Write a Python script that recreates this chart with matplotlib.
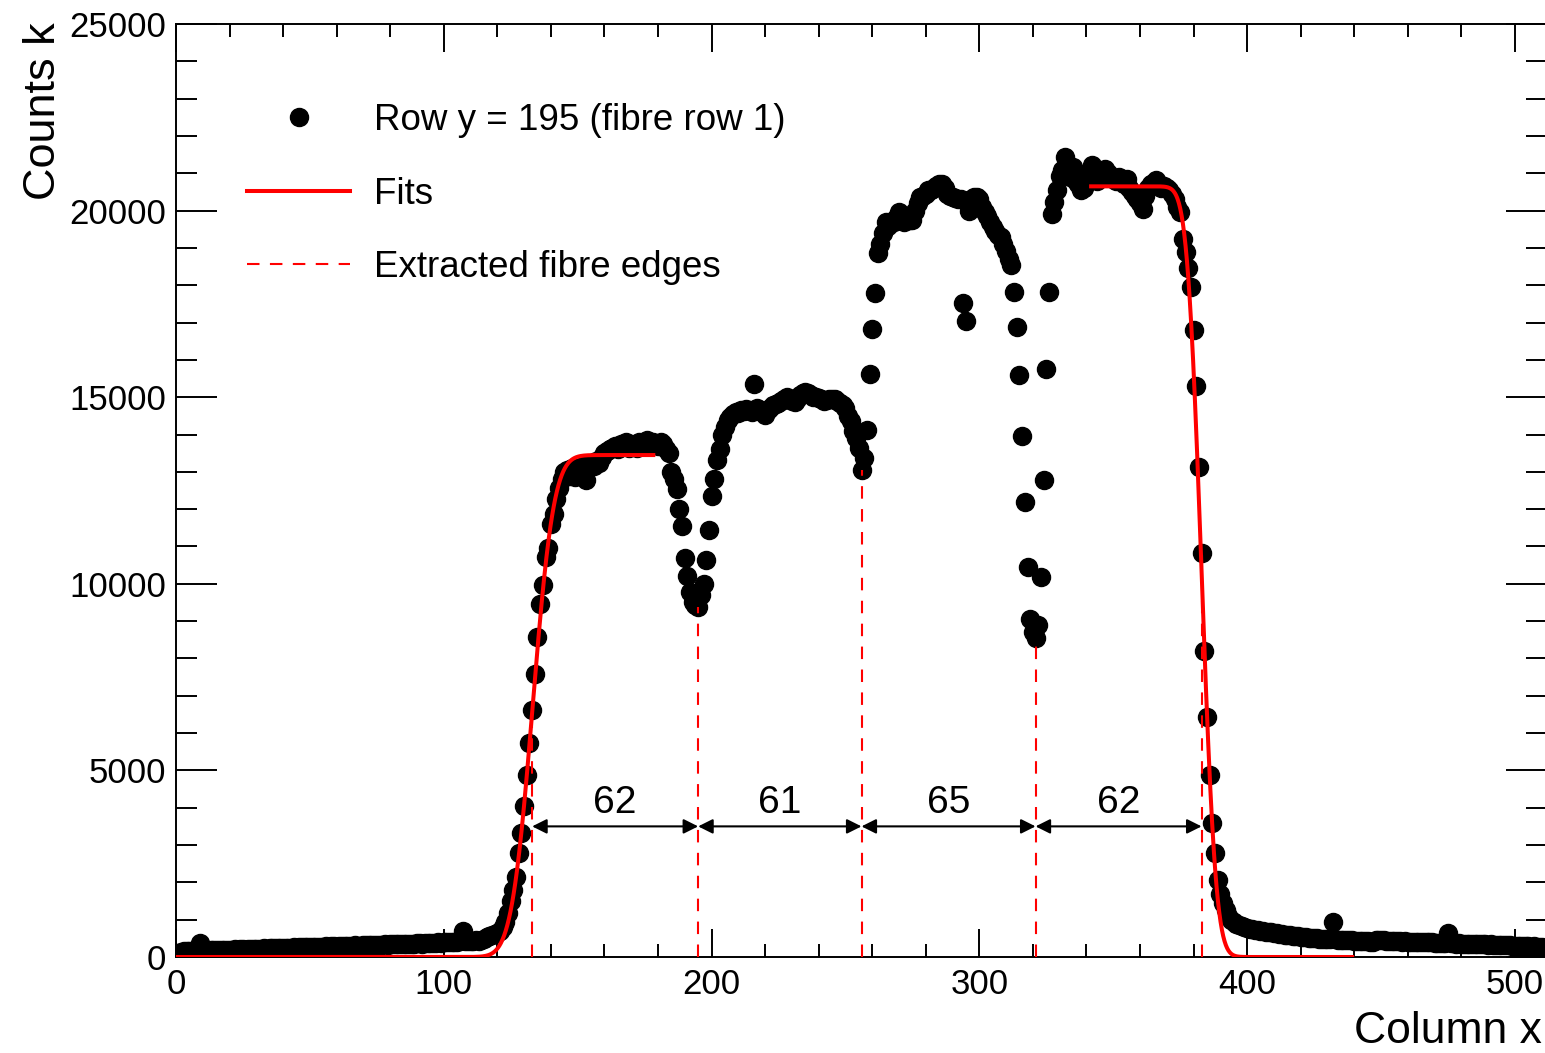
import math

import matplotlib
matplotlib.use("Agg")
import matplotlib.pyplot as plt
from matplotlib.lines import Line2D
from matplotlib.ticker import MultipleLocator
import numpy as np

plt.rcParams['font.family'] = ['Liberation Sans', 'DejaVu Sans']

# Pixel counts along image row y = 195, one value per column (0..511)
counts = [
    100, 20, 140, 150, 160, 150, 170, 160, 180, 380, 170, 180, 170, 190, 180, 185,
    190, 180, 195, 200, 190, 200, 210, 195, 205, 210, 200, 215, 220, 210, 215, 225,
    220, 230, 225, 235, 230, 240, 230, 245, 240, 250, 245, 240, 255, 250, 260, 255,
    260, 270, 265, 260, 275, 270, 280, 275, 285, 280, 290, 285, 280, 295, 290, 300,
    295, 305, 300, 310, 305, 300, 315, 310, 320, 315, 325, 320, 330, 325, 335, 330,
    340, 335, 345, 340, 350, 345, 355, 350, 360, 355, 365, 370, 360, 375, 370, 380,
    375, 385, 390, 380, 395, 390, 400, 410, 400, 415, 420, 690, 425, 430, 420, 440,
    450, 440, 460, 470, 540, 560, 580, 610, 640, 700, 800, 950, 1170, 1500, 1800, 2150,
    2790, 3310, 4040, 4870, 5740, 6620, 7580, 8580, 9450, 9980, 10720, 10960, 11600, 11860, 12270, 12560,
    12800, 13000, 13050, 12900, 13100, 12850, 13100, 13000, 13150, 12780, 13100, 13200, 13150, 13300, 13250, 13400,
    13500, 13550, 13600, 13650, 13700, 13600, 13750, 13700, 13800, 13650, 13750, 13700, 13650, 13800, 13700, 13750,
    13850, 13700, 13800, 13750, 13700, 13800, 13750, 13600, 13500, 13000, 12800, 12550, 12000, 11550, 10700, 10200,
    9780, 9520, 9420, 9380, 9700, 10000, 10650, 11430, 12340, 12800, 13330, 13600, 13980, 14200, 14380, 14480,
    14560, 14600, 14580, 14650, 14620, 14680, 14650, 14600, 15360, 14700, 14650, 14600, 14520, 14650, 14700, 14800,
    14830, 14850, 14900, 14950, 15000, 14950, 14900, 14870, 14950, 15050, 15100, 15140, 15100, 15050, 15000, 15000,
    14980, 14950, 14900, 14920, 14950, 14960, 14950, 14900, 14850, 14780, 14700, 14500, 14350, 14100, 13900, 13650,
    13050, 13360, 14110, 15630, 16830, 17790, 18860, 19110, 19400, 19690, 19600, 19700, 19690, 19800, 19960, 19850,
    19700, 19800, 19750, 19740, 20000, 20200, 20360, 20400, 20450, 20540, 20550, 20600, 20650, 20700, 20720, 20600,
    20450, 20400, 20360, 20350, 20300, 20320, 17530, 17040, 20000, 20300, 20360, 20360, 20300, 20100, 19950, 19850,
    19700, 19560, 19450, 19350, 19290, 19100, 18930, 18700, 18530, 17820, 16880, 15590, 13950, 12190, 10450, 9070,
    8700, 8560, 8890, 10170, 12790, 15765, 17820, 19915, 20230, 20540, 20940, 21100, 21430, 21000, 20900, 21160,
    20800, 20700, 20540, 20600, 20900, 21000, 21210, 21000, 20800, 20900, 21050, 21120, 21000, 20900, 20850, 20800,
    20900, 20850, 20700, 20850, 20600, 20500, 20400, 20300, 20200, 20050, 20400, 20600, 20700, 20750, 20810, 20700,
    20600, 20650, 20600, 20540, 20450, 20300, 20100, 19960, 19250, 18890, 18450, 17950, 16810, 15290, 13130, 10830,
    8200, 6435, 4874, 3597, 2777, 2062, 1700, 1450, 1250, 1100, 1000, 930, 880, 850, 820, 800,
    780, 760, 740, 730, 720, 700, 690, 680, 670, 660, 650, 640, 620, 610, 600, 590,
    580, 570, 560, 550, 540, 535, 530, 520, 515, 510, 500, 495, 490, 485, 480, 475,
    950, 470, 465, 460, 455, 450, 445, 450, 440, 435, 430, 425, 420, 425, 415, 410,
    455, 450, 450, 445, 440, 435, 430, 435, 425, 420, 415, 420, 410, 405, 400, 405,
    395, 390, 395, 400, 390, 395, 385, 380, 385, 375, 370, 640, 365, 370, 360, 365,
    355, 360, 350, 355, 345, 350, 340, 345, 335, 340, 330, 335, 325, 330, 320, 325,
    315, 320, 310, 300, 295, 300, 290, 295, 285, 290, 280, 285, 275, 270, 265, 30,
]
columns = np.arange(len(counts))

# Edge fits: (edge position, sigma, plateau level, fit range)
left_fit = dict(x0=133.2, sigma=6.2, level=13450, lo=0, hi=179)
right_fit = dict(x0=383.0, sigma=4.2, level=20650, lo=341, hi=440)

# Fibre edges extracted from the fits / dips
fibre_edges = [133, 195, 256, 321, 383]
arrow_y = 3500


def edge_curve(x, x0, sigma, level, rising):
    z = (x - x0) / (math.sqrt(2) * sigma)
    e = np.array([math.erf(v) for v in z])
    return level / 2 * (1 + e) if rising else level / 2 * (1 - e)


fig = plt.figure(figsize=(15.45, 10.53), dpi=100)
ax = fig.add_axes([176 / 1545, 96 / 1053, 1371 / 1545, 933 / 1053])

ax.plot(columns, counts, 'o', color='black', ms=13, mec='black', zorder=2)

xl = np.linspace(left_fit['lo'], left_fit['hi'], 600)
ax.plot(xl, edge_curve(xl, left_fit['x0'], left_fit['sigma'], left_fit['level'], True),
        color='red', lw=2.9, zorder=4, solid_capstyle='butt')
xr = np.linspace(right_fit['lo'], right_fit['hi'], 600)
ax.plot(xr, edge_curve(xr, right_fit['x0'], right_fit['sigma'], right_fit['level'], False),
        color='red', lw=2.9, zorder=4, solid_capstyle='butt')

dash = (0, (6, 5))
for e in fibre_edges:
    ax.plot([e, e], [0, counts[e]], color='red', lw=1.5, linestyle=dash, zorder=3)

for a, b in zip(fibre_edges[:-1], fibre_edges[1:]):
    ax.annotate('', xy=(a, arrow_y), xytext=(b, arrow_y),
                arrowprops=dict(arrowstyle='<|-|>', color='black', lw=1.5,
                                shrinkA=0, shrinkB=0, mutation_scale=22),
                zorder=5)
    ax.text((a + b) / 2, 3860, str(b - a), ha='center', va='baseline', fontsize=28)

ax.set_xlim(0, 512)
ax.set_ylim(0, 25000)
ax.xaxis.set_major_locator(MultipleLocator(100))
ax.xaxis.set_minor_locator(MultipleLocator(20))
ax.yaxis.set_major_locator(MultipleLocator(5000))
ax.yaxis.set_minor_locator(MultipleLocator(1000))
ax.tick_params(which='both', direction='in', top=True, right=True, width=1.4, labelsize=25)
ax.tick_params(axis='x', which='major', length=20, pad=8)
ax.tick_params(axis='x', which='minor', length=9.5)
ax.tick_params(axis='y', which='major', length=29.5, pad=7)
ax.tick_params(axis='y', which='minor', length=15)
for s in ax.spines.values():
    s.set_linewidth(1.4)

fig.text(55 / 1545, 1 - 22 / 1053, 'Counts k', rotation=90, rotation_mode='anchor',
         ha='right', va='baseline', fontsize=32.5)
fig.text(1542 / 1545, 1 - 1043 / 1053, 'Column x', ha='right', va='baseline', fontsize=32)

handles = [
    Line2D([], [], marker='o', ls='none', color='black', ms=13),
    Line2D([], [], color='red', lw=2.9),
    Line2D([], [], color='red', lw=1.5, linestyle=dash),
]
labels = ['Row y = 195 (fibre row 1)', 'Fits', 'Extracted fibre edges']
ax.legend(handles, labels, loc='upper left', bbox_to_anchor=(71 / 1371, (957 - 103) / 933),
          frameon=False, fontsize=26.5, handlelength=2.8, handletextpad=0.65,
          labelspacing=1.05, borderpad=0, borderaxespad=0)

fig.savefig('out.png', dpi=100)
